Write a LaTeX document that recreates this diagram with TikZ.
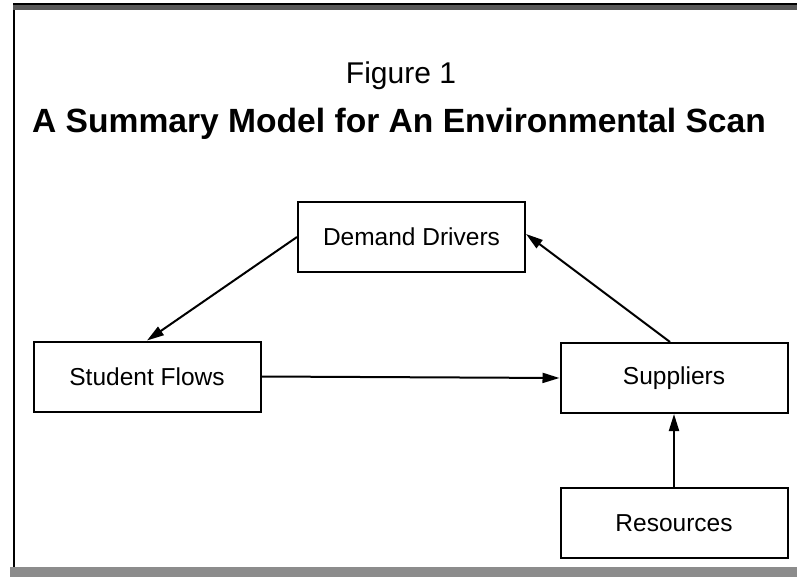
\documentclass[tikz,border=0pt]{standalone}
\usepackage{fontspec}
\setmainfont{Liberation Sans}
\usetikzlibrary{arrows.meta}
\tikzset{
    block/.style={draw, line width=2pt, minimum width=227pt, minimum height=70pt,
        inner sep=0pt, font=\fontsize{24.5}{28}\selectfont},
    flow/.style={line width=2pt, -{Triangle[length=17pt,width=10pt]}}
}
\begin{document}
\begin{tikzpicture}[x=1pt, y=-1pt]
    \useasboundingbox (0,0) rectangle (797,580);
    % page frame
    \fill[black!65] (13,4) rectangle (797,10);
    \draw[line width=1.2pt] (13,4) -- (797,4);
    \draw[line width=2.2pt] (14,10) -- (14,569);
    \fill[black!45] (10,567) rectangle (797,577);

    % headings
    \node (fig) at (401,76) {\fontsize{30}{34}\selectfont Figure 1};
    \node (title) at (399,124) {\fontsize{33.6}{38}\selectfont\bfseries A Summary Model for An Environmental Scan};

    % blocks
    \node[block] (demand) at (411.5,237) {Demand Drivers};
    \node[block] (student) at (147,376.5) {Student Flows};
    \node[block] (suppliers) at (674,378) {Suppliers};
    \node[block] (resources) at (674,523) {Resources};

    % connectors
    \draw[flow] (demand.west) -- (student.north);
    \draw[flow] ([xshift=-4pt]suppliers.north) -- ([yshift=3pt]demand.east);
    \draw[flow] (student.east) -- (suppliers.west);
    \draw[flow] (resources.north) -- (suppliers.south);
\end{tikzpicture}
\end{document}
